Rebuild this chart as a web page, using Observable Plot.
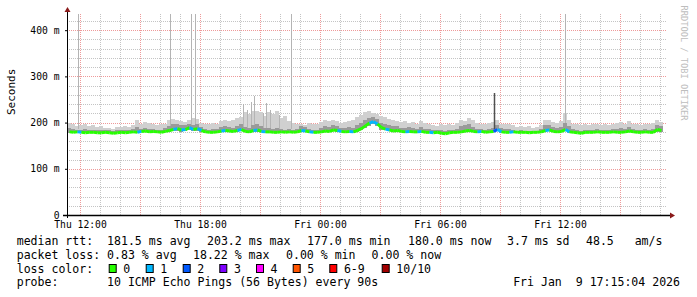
<!DOCTYPE html>
<html><head><meta charset="utf-8">
<script src="https://cdn.jsdelivr.net/npm/d3@7"></script>
<script src="https://cdn.jsdelivr.net/npm/@observablehq/plot@0.6"></script>
<style>
html,body{margin:0;padding:0;background:#fff;}
#chart{width:697px;height:297px;overflow:hidden;}
</style></head><body><div id="chart"></div>
<script>
// ---- data ----
const sampleStart = "2026-01-08T11:21Z";   // first sample, 12 minute steps
const sampleStepMin = 12;
const med = [181,180,181,180,179,180,180,179,179,180, 179,178,179,180,179,180,181,180,182,183,
  181,182,181,180,182,184,186,188,185,186, 190,186,188,184,181,180,180,181,183,184,
  183,182,184,186,182,181,184,185,182,181, 181,180,180,181,180,181,180,181,184,183,
  181,180,180,181,183,182,185,184,182,181, 182,181,184,188,194,200,203,198,190,187,
  185,183,184,182,181,182,181,181,182,180, 180,179,180,178,177,179,180,180,181,183,
  184,182,181,182,180,181,182,186,181,180, 180,181,180,180,180,179,180,180,181,184,
  185,182,181,182,186,181,180,179,178,180, 180,180,181,180,180,180,181,180,180,181,
  183,181,180,180,181,180,180,186,184];
const lo = [178,178,179,178,177,178,178,177,177,178, 177,176,177,178,177,178,178,178,179,180,
  178,179,178,178,179,180,181,182,180,181, 183,181,182,180,178,178,178,178,179,180,
  179,179,180,181,179,178,180,180,179,178, 178,178,178,178,178,178,178,178,180,180,
  178,178,178,178,180,179,181,180,179,178, 179,178,180,183,188,193,196,192,185,183,
  181,180,180,179,178,179,178,178,179,178, 178,177,178,176,175,177,178,178,178,180,
  180,179,178,179,178,178,179,181,178,178, 178,178,178,178,178,177,178,178,178,180,
  181,179,178,179,181,178,178,177,176,178, 178,178,178,178,178,178,178,178,178,178,
  179,178,178,178,178,178,178,180,180];
const dk = [188,186,184,185,186,184,185,183,184,183, 183,182,183,184,185,184,186,190,186,188,
  186,187,185,184,188,192,196,198,194,195, 196,194,196,190,186,185,186,186,190,192,
  190,188,192,196,190,188,194,196,192,188, 188,186,188,186,185,186,184,186,192,190,
  186,185,184,188,192,190,194,192,188,188, 190,188,194,200,206,210,212,208,200,196,
  194,192,192,188,188,190,188,186,190,186, 186,184,184,184,182,184,184,186,192,194,
  196,190,186,186,185,186,188,194,188,186, 186,184,182,183,182,182,182,182,186,194,
  194,190,188,190,200,192,186,184,182,184, 184,184,186,184,184,184,186,186,188,186,
  190,186,184,184,186,184,186,194,192];
const hi = [200,196,192,194,196,192,194,190,192,189, 188,186,190,190,192,190,194,205,196,202,
  200,198,194,196,198,206,208,206,204,202, 206,210,208,200,196,198,200,198,204,206,
  204,206,210,212,222,218,226,224,222,214, 222,218,226,210,214,204,200,196,198,194,
  200,198,196,202,206,204,206,204,200,202, 204,206,212,216,222,224,220,218,214,212,
  208,206,204,202,204,200,202,198,204,200, 196,194,192,196,194,196,194,200,206,204,
  210,206,200,196,198,200,202,206,198,196, 196,194,190,192,190,192,188,190,194,206,
  206,202,200,204,220,206,198,196,194,196, 194,196,198,194,196,194,198,200,202,198,
  204,198,196,194,198,196,200,206,202];
const loss = [0,0,1,0,0,0,0,0,0,0, 0,0,0,0,0,0,0,1,0,0,
  0,0,0,0,0,0,1,0,1,0, 1,0,1,0,0,0,0,0,1,0,
  0,0,1,0,0,0,1,0,1,0, 0,0,0,0,0,0,0,0,1,0,
  1,0,0,0,0,0,0,1,0,0, 1,0,0,0,0,1,1,0,0,1,
  0,0,0,0,1,0,0,1,0,0, 1,0,0,0,0,0,0,0,0,0,
  0,0,1,0,0,0,2,1,0,0, 1,0,0,0,0,0,0,0,0,1,
  0,0,0,0,1,0,0,0,0,0, 0,0,0,0,0,0,0,0,0,0,
  0,0,0,0,0,0,0,0,0];
// single outlier pings
const spikeTime = ["2026-01-08T11:54Z","2026-01-08T16:30Z","2026-01-08T17:33Z","2026-01-08T17:45Z",
  "2026-01-08T20:09Z","2026-01-08T20:21Z","2026-01-08T20:33Z","2026-01-08T20:42Z","2026-01-08T21:09Z",
  "2026-01-08T21:18Z","2026-01-08T21:30Z","2026-01-08T21:57Z","2026-01-08T22:33Z","2026-01-09T12:15Z"];
const spikeMs = [434,434,434,434,241,227,244,258,220,242,227,216,434,434];
const darkSpikeTime = ["2026-01-09T08:42Z"];
const darkSpikeMs = [264];

const xDomain = ["2026-01-08T11:21Z", "2026-01-09T17:21Z"];
const yDomain = [0, 435];
const yTicks = [0, 100, 200, 300, 400];
const xTickTimes = ["2026-01-08T12:00Z","2026-01-08T18:00Z","2026-01-09T00:00Z","2026-01-09T06:00Z","2026-01-09T12:00Z"];
const xTickLabels = ["Thu 12:00","Thu 18:00","Fri 00:00","Fri 06:00","Fri 12:00"];

const lossLabels = ["0","1","2","3","4","5","6-9","10/10"];
const lossColors = ["#26ff00","#00b8ff","#0059ff","#7e00ff","#ff00ff","#ff5500","#ff0000","#a10000"];
const legendRtt = ["median rtt:  181.5 ms avg","203.2 ms max","177.0 ms min","180.0 ms now","3.7 ms sd","48.5   am/s"];
const legendLoss = ["packet loss: 0.83 % avg","18.22 % max","0.00 % min","0.00 % now"];
const legendColorTitle = "loss color:";
const legendProbe = "probe:       10 ICMP Echo Pings (56 Bytes) every 90s";
const legendDate = "Fri Jan  9 17:15:04 2026";
const yTitle = "Seconds";
const watermark = "RRDTOOL / TOBI OETIKER";

// ---- build tables ----
const t0 = Date.parse(sampleStart), step = sampleStepMin * 60000;
const rows = med.map((m, i) => ({
  t1: new Date(t0 + i * step), t2: new Date(t0 + (i + 1) * step),
  tm: new Date(t0 + (i + 0.5) * step),
  med: m, lo: lo[i], dk: dk[i], hi: hi[i], loss: loss[i]
}));
const segs = rows.slice(0, -1).map((r, i) => ({
  xa: r.tm, ya: r.med, xb: rows[i + 1].tm, yb: rows[i + 1].med, loss: r.loss
}));
const spikes = spikeTime.map((t, i) => ({t: new Date(t), ms: spikeMs[i]}));
const darkSpikes = darkSpikeTime.map((t, i) => ({t: new Date(t), ms: darkSpikeMs[i]}));
const xd = xDomain.map(d => new Date(d));
const xTicks = xTickTimes.map(d => new Date(d));
const hours = d3.utcHour.range(xd[0], xd[1]);
const majorHours = hours.filter(d => d.getUTCHours() % 3 === 0);
const minorHours = hours.filter(d => d.getUTCHours() % 3 !== 0);
const minorY = d3.range(20, yDomain[1], 20).filter(v => v % 100 !== 0);
const majorY = yTicks.filter(v => v > 0);

const minorGrid = "#c4c4c4", majorGrid = "#ee9a9a";
const gridStyle = {strokeOpacity: 1, strokeDasharray: "1,1", shapeRendering: "crispEdges"};
const chart = Plot.plot({
  width: 697, height: 297,
  marginLeft: 67, marginRight: 30, marginTop: 14, marginBottom: 82,
  style: {fontFamily: "'DejaVu Sans Mono', monospace", fontSize: "9.7px", background: "#fff", color: "#000", overflow: "visible"},
  x: {type: "utc", domain: xd},
  y: {domain: yDomain},
  color: {type: "identity"},
  marks: [
    Plot.gridX(minorHours, {stroke: minorGrid, ...gridStyle, strokeDashoffset: 0.5}),
    Plot.gridY(minorY, {stroke: minorGrid, ...gridStyle}),
    Plot.gridX(majorHours, {stroke: majorGrid, ...gridStyle, strokeDashoffset: 0.5}),
    Plot.gridY(majorY, {stroke: majorGrid, ...gridStyle}),
    Plot.rect(rows, {x1: "t1", x2: "t2", y1: "lo", y2: "hi", fill: "#d0d0d0", shapeRendering: "crispEdges"}),
    Plot.ruleX(spikes, {x: "t", y1: 186, y2: "ms", stroke: "#b4b4b4", strokeWidth: 1, shapeRendering: "crispEdges"}),
    Plot.rect(rows, {x1: "t1", x2: "t2", y1: "lo", y2: "dk", fill: "#9a9a9a", shapeRendering: "crispEdges"}),
    Plot.ruleX(darkSpikes, {x: "t", y1: 186, y2: "ms", stroke: "#505050", strokeWidth: 1.5}),
    Plot.link(segs, {x1: "xa", y1: "ya", x2: "xb", y2: "yb", stroke: d => lossColors[d.loss], strokeWidth: 3, strokeLinecap: "butt"}),
    Plot.axisY(yTicks, {tickFormat: v => v === 0 ? "0" : `${v} m`, tickSize: 2, tickPadding: 6, label: null, fontSize: 9.7}),
    Plot.axisX(xTicks, {tickFormat: d => xTickLabels[xTicks.findIndex(t => +t === +d)], tickSize: 0, tickPadding: 6, label: null, fontSize: 9.7}),
    Plot.text([yTitle], {frameAnchor: "left", rotate: -90, dx: -56.5, fontSize: 11}),
    Plot.text([watermark], {frameAnchor: "top-right", rotate: 90, textAnchor: "start", dx: 20, dy: -9, fill: "#bdbdbd", fontSize: 8.7})
  ]
});
document.getElementById("chart").appendChild(chart);

// ---- rrdtool-style axis lines, arrows and legend ----
const svg = d3.select(chart);
const X = chart.scale("x"), Y = chart.scale("y");
const xl = X.range[0], xr = X.range[1], yb = Y.range[0], yt = Y.range[1];
const arrowColor = "#8a1a1a";
svg.append("line").attr("x1", xl + 0.5).attr("x2", xl + 0.5).attr("y1", yb + 3).attr("y2", yt - 3)
  .attr("stroke", "#000").attr("stroke-width", 1);
svg.append("line").attr("x1", xl - 4).attr("x2", xr + 4).attr("y1", yb + 0.5).attr("y2", yb + 0.5)
  .attr("stroke", "#000").attr("stroke-width", 1.5);
svg.append("path").attr("d", `M${xl + 0.5},${yt - 7}L${xl - 2.5},${yt - 2}L${xl + 3.5},${yt - 2}Z`).attr("fill", arrowColor);
svg.append("path").attr("d", `M${xr + 8},${yb + 0.5}L${xr + 3},${yb - 2.5}L${xr + 3},${yb + 3.5}Z`).attr("fill", arrowColor);

const lg = svg.append("g").attr("font-family", "'DejaVu Sans Mono', monospace")
  .attr("font-size", 11.56).attr("fill", "#000").attr("text-anchor", "start").style("white-space", "pre");
const base = [245.3, 259, 272.7, 286.4];
const rttX = [16.7, 207, 307, 408, 507, 586];
legendRtt.forEach((s, i) => lg.append("text").attr("x", rttX[i]).attr("y", base[0]).text(s));
const lossX = [16.7, 193, 286, 371.6];
legendLoss.forEach((s, i) => lg.append("text").attr("x", lossX[i]).attr("y", base[1]).text(s));
lg.append("text").attr("x", 16.7).attr("y", base[2]).text(legendColorTitle);
const sqX = [108.7, 145.7, 182.7, 219.3, 256, 292.7, 329.3, 381.7];
lossLabels.forEach((s, i) => {
  lg.append("rect").attr("x", sqX[i] + 0.5).attr("y", 264.5).attr("width", 7).attr("height", 8)
    .attr("fill", lossColors[i]).attr("stroke", "#000").attr("stroke-width", 1);
  lg.append("text").attr("x", sqX[i] + 14.6).attr("y", base[2]).text(s);
});
lg.append("text").attr("x", 16.7).attr("y", base[3]).text(legendProbe);
lg.append("text").attr("x", 680).attr("y", base[3]).attr("text-anchor", "end").text(legendDate);
</script></body></html>
